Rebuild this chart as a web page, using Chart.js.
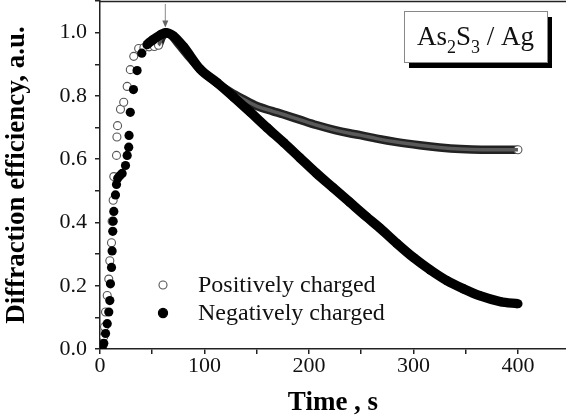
<!DOCTYPE html>
<html><head><meta charset="utf-8">
<script src="https://cdn.jsdelivr.net/npm/chart.js@4.4.1/dist/chart.umd.min.js"></script>
<style>html,body{margin:0;padding:0;background:#fff;overflow:hidden}canvas{display:block}</style>
</head><body>
<canvas id="c" width="566" height="420"></canvas>
<script>
const seriesNames = ['Positively charged', 'Negatively charged'];
const posT = [3,3.6,4.3,5.3,6.9,8.4,9.4,11,11.6,12.6,13.2,15.8,16.2,16.8,19.6,22.7,26,29,32.3,37,42,47,52,56,59,62.5,67,75,85,96,110,125,137,150,165,175,191,207,225,239,249,265,284,306,325,345,365,385,400];
const posV = [0.013,0.039,0.07,0.117,0.169,0.221,0.279,0.336,0.404,0.47,0.545,0.612,0.67,0.706,0.758,0.78,0.83,0.883,0.925,0.95,0.952,0.955,0.956,0.96,0.985,0.998,0.995,0.965,0.925,0.884,0.845,0.812,0.79,0.768,0.752,0.742,0.725,0.708,0.692,0.682,0.676,0.665,0.654,0.644,0.637,0.632,0.63,0.63,0.63];
const negT = [2,3.6,5.3,6.9,8.4,9.4,10,11,11.6,12.2,12.6,13.2,14.8,15.8,17,19,21.2,24.4,26,27.5,27.8,29,32,35.5,40,45,51,58,63,70,80,96,112,128,144,160,176,191.5,207,223,239,255,268,284,300,316,332,348,363,383,400];
const negV = [0.003,0.018,0.049,0.08,0.117,0.153,0.206,0.258,0.31,0.372,0.404,0.435,0.487,0.52,0.54,0.548,0.555,0.58,0.612,0.638,0.675,0.748,0.82,0.88,0.935,0.962,0.978,0.993,1.0,0.99,0.955,0.884,0.842,0.796,0.748,0.699,0.652,0.604,0.556,0.51,0.464,0.418,0.382,0.334,0.289,0.25,0.216,0.19,0.169,0.15,0.143];
const xTickValues = [0, 100, 200, 300, 400];
const yTickValues = [0, 0.2, 0.4, 0.6, 0.8, 1.0];
const xTitle = 'Time , s';
const yTitle = 'Diffraction efficiency, a.u.';
const peakTime = 62.5;
const sampleParts = [['As', false], ['2', true], ['S', false], ['3', true], [' / Ag', false]];

const FONT = "'Liberation Serif', 'Times New Roman', serif";
function pts(t, v) { return t.map((x, i) => ({ x: x, y: v[i] })); }
const clear = 'rgba(0,0,0,0)';

const decor = {
  id: 'decor',
  afterDraw(chart) {
    const ctx = chart.ctx, a = chart.chartArea, xs = chart.scales.x, ys = chart.scales.y;
    ctx.save();
    // top frame
    ctx.strokeStyle = '#222'; ctx.lineWidth = 1.5;
    ctx.beginPath(); ctx.moveTo(a.left, a.top + 0.5); ctx.lineTo(a.right, a.top + 0.5); ctx.stroke();
    // arrow at peak
    const ax = xs.getPixelForValue(peakTime);
    const yTip = ys.getPixelForValue(1.016);
    ctx.strokeStyle = '#8a8a8a'; ctx.lineWidth = 1;
    ctx.beginPath(); ctx.moveTo(ax, a.top + 3); ctx.lineTo(ax, yTip - 4); ctx.stroke();
    ctx.fillStyle = '#666';
    ctx.beginPath(); ctx.moveTo(ax - 3, yTip - 7); ctx.lineTo(ax + 3, yTip - 7); ctx.lineTo(ax, yTip); ctx.closePath(); ctx.fill();
    // legend
    const ds = chart.data.datasets;
    const items = [ds[2], ds[0]];
    ctx.font = '24px ' + FONT; ctx.textBaseline = 'middle'; ctx.textAlign = 'left';
    items.forEach((d, i) => {
      const cy = 285 + i * 28, cx = a.left + 63;
      ctx.beginPath(); ctx.arc(cx, cy, d.legendRadius, 0, Math.PI * 2);
      ctx.fillStyle = d.pointBackgroundColor; ctx.fill();
      ctx.lineWidth = 1.1; ctx.strokeStyle = d.pointBorderColor; ctx.stroke();
      ctx.fillStyle = '#111';
      ctx.fillText(d.label, a.left + 98, cy + 1);
    });
    // sample label box
    const bx = a.right - 162, by = 11, bw = 143, bh = 51;
    ctx.fillStyle = '#000'; ctx.fillRect(bx + 5, by + 6, bw, bh);
    ctx.fillStyle = '#fff'; ctx.fillRect(bx, by, bw, bh);
    ctx.strokeStyle = '#888'; ctx.lineWidth = 1; ctx.strokeRect(bx + 0.5, by + 0.5, bw, bh);
    let tx = bx + 13; const base = by + 34;
    ctx.fillStyle = '#111'; ctx.textBaseline = 'alphabetic';
    sampleParts.forEach(p => {
      ctx.font = (p[1] ? '18px ' : '27px ') + FONT;
      ctx.fillText(p[0], tx, base + (p[1] ? 8 : 0));
      tx += ctx.measureText(p[0]).width;
    });
    ctx.restore();
  }
};

new Chart(document.getElementById('c'), {
  type: 'scatter',
  data: {
    datasets: [
      {
        label: seriesNames[1], data: pts(negT, negV), showLine: true, cubicInterpolationMode: 'monotone',
        borderColor: '#000', borderWidth: 9.5,
        segment: { borderColor: c => c.p0.parsed.x < 45 ? clear : '#000' },
        pointRadius: 4.6, pointBackgroundColor: '#000', pointBorderColor: '#000', pointBorderWidth: 0,
        legendRadius: 4.6
      },
      {
        label: '', data: pts(posT, posV), showLine: true, cubicInterpolationMode: 'monotone',
        borderColor: '#5a5a5a', borderWidth: 3.5,
        segment: { borderColor: c => c.p0.parsed.x < 56 ? clear : '#5a5a5a' },
        pointRadius: 0
      },
      {
        label: seriesNames[0], data: pts(posT, posV), showLine: true, cubicInterpolationMode: 'monotone',
        borderColor: '#222', borderWidth: 8.5,
        segment: { borderColor: c => c.p0.parsed.x < 56 ? clear : '#222' },
        pointRadius: c => (posT[c.dataIndex] < 58 || c.dataIndex === posT.length - 1) ? 4 : 0,
        pointBackgroundColor: '#fff', pointBorderColor: '#555', pointBorderWidth: 1.1,
        legendRadius: 4
      }
    ]
  },
  options: {
    responsive: false, animation: false, devicePixelRatio: 1,
    layout: { autoPadding: false, padding: { left: 0, right: 0, top: 1, bottom: 0 } },
    plugins: { legend: { display: false }, tooltip: { enabled: false } },
    scales: {
      x: {
        type: 'linear', min: 0, max: 446,
        afterFit: s => { s.height = 71; s.paddingLeft = 0; s.paddingRight = 0; },
        ticks: {
          stepSize: 50, includeBounds: false, autoSkip: false, maxRotation: 0, padding: -1,
          color: '#111', font: { family: FONT, size: 22 },
          callback: v => xTickValues.includes(v) ? String(v) : ''
        },
        grid: { drawOnChartArea: false, drawTicks: true, tickLength: 5, color: '#222', lineWidth: 1.5 },
        border: { display: true, color: '#222', width: 1.5 },
        title: { display: true, text: xTitle, color: '#000', font: { family: FONT, size: 27, weight: 'bold' }, padding: { top: 0, bottom: 1 } }
      },
      y: {
        type: 'linear', min: 0, max: 1.1,
        afterFit: s => { s.width = 100; s.paddingTop = 0; s.paddingBottom = 0; },
        ticks: {
          stepSize: 0.1, includeBounds: false, autoSkip: false, padding: 8,
          color: '#111', font: { family: FONT, size: 22 },
          callback: v => yTickValues.some(t => Math.abs(t - v) < 1e-6) ? v.toFixed(1) : ''
        },
        grid: { drawOnChartArea: false, drawTicks: true, tickLength: 5, color: '#222', lineWidth: 1.5 },
        border: { display: true, color: '#222', width: 1.5 },
        title: { display: true, text: yTitle, color: '#000', font: { family: FONT, size: 27, weight: 'bold' }, padding: { top: 1, bottom: 0 } }
      }
    }
  },
  plugins: [decor]
});
</script>
</body></html>
